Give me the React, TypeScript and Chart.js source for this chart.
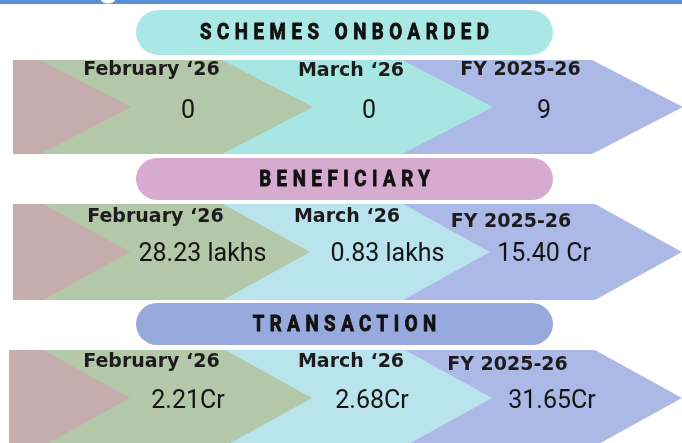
import React, { useEffect, useRef } from "react";
import { Chart, registerables } from "chart.js";
Chart.register(...registerables);

// ---- data ----
const periods = ["February ‘26", "March ‘26", "FY 2025-26"];
const metrics = ["SCHEMES ONBOARDED", "BENEFICIARY", "TRANSACTION"];
const schemesOnboarded = ["0", "0", "9"];
const beneficiaries = ["28.23 lakhs", "0.83 lakhs", "15.40 Cr"];
const transactions = ["2.21Cr", "2.68Cr", "31.65Cr"];
const rowValues = [schemesOnboarded, beneficiaries, transactions];

// ---- layout (in canvas units mapped through the scales) ----
const W = 682;
const H = 443;
const pillColors = ["#a9e8e5", "#d6abcf", "#98a9dd"];
const pillBoxes = [
  [136, 10, 553, 55],
  [136, 158, 553, 200],
  [136, 303, 553, 345],
];
const bandBoxes = [
  [13, 60, 154],
  [13, 204, 300],
  [9, 350, 446],
];
const segRight = [
  [40, 222, 402, 592],
  [43, 223, 403, 595],
  [43, 225, 405, 595],
];
const tipDepth = [91, 87, 87];
const segColors = [
  ["#c4adac", "#b3c8a8", "#a8e6e3", "#acb9e6"],
  ["#c4adac", "#b3c8a8", "#b9e4ee", "#acb9e6"],
  ["#c4adac", "#b3c8a8", "#b9e4ec", "#acb9e6"],
];
const labelPos = [
  [[151.5, 75], [351, 76], [520.5, 75]],
  [[155.5, 222], [347, 222], [511, 227]],
  [[151.5, 367], [351, 367], [507.5, 370]],
];
const valuePos = [
  [[188, 118], [369, 118], [544, 118]],
  [[202.5, 261], [387.5, 261], [544, 261]],
  [[188, 408], [372, 408], [552, 408]],
];

const infographic = {
  id: "infographic",
  beforeDatasetsDraw(chart: any) {
    const ctx = chart.ctx as CanvasRenderingContext2D;
    const xs = chart.scales.x;
    const ys = chart.scales.y;
    const px = (v: number) => xs.getPixelForValue(v);
    const py = (v: number) => ys.getPixelForValue(v);
    ctx.save();
    // top strip
    ctx.fillStyle = "#5a8fd4";
    ctx.fillRect(px(0), py(0), px(W) - px(0), py(4) - py(0));
    ctx.fillStyle = "#ffffff";
    ctx.beginPath();
    ctx.ellipse(px(108), py(0), 7, 3.5, 0, 0, Math.PI * 2);
    ctx.fill();

    metrics.forEach((m, r) => {
      // pill
      const [x0, y0, x1, y1] = pillBoxes[r];
      const rad = (py(y1) - py(y0)) / 2;
      ctx.fillStyle = pillColors[r];
      ctx.beginPath();
      ctx.roundRect(px(x0), py(y0), px(x1) - px(x0), py(y1) - py(y0), rad);
      ctx.fill();
      // condensed, tracked title
      ctx.save();
      ctx.fillStyle = "#111111";
      ctx.strokeStyle = "#111111";
      ctx.lineWidth = 0.9;
      ctx.font = "bold 22px Roboto";
      (ctx as any).letterSpacing = "6.5px";
      ctx.textAlign = "center";
      ctx.textBaseline = "middle";
      const cx = px((x0 + x1) / 2);
      const cy = py((y0 + y1) / 2) + 1;
      ctx.translate(cx, cy);
      ctx.scale(0.85, 1);
      ctx.fillText(m, 3.25, 0);
      ctx.strokeText(m, 3.25, 0);
      ctx.restore();

      // chevrons
      const [L, T, B] = bandBoxes[r];
      const M = (T + B) / 2;
      for (let i = 3; i >= 0; i--) {
        const R = segRight[r][i];
        ctx.fillStyle = segColors[r][i];
        ctx.beginPath();
        ctx.moveTo(px(L), py(T));
        ctx.lineTo(px(R), py(T));
        ctx.lineTo(px(R + tipDepth[r]), py(M));
        ctx.lineTo(px(R), py(B));
        ctx.lineTo(px(L), py(B));
        ctx.closePath();
        ctx.fill();
      }

      // period labels
      ctx.fillStyle = "#1c1c1c";
      ctx.font = "bold 19px 'DejaVu Sans'";
      ctx.textAlign = "center";
      ctx.textBaseline = "alphabetic";
      periods.forEach((p, c) => {
        const [lx, ly] = labelPos[r][c];
        ctx.fillText(p, px(lx), py(ly));
      });
    });
    ctx.restore();
  },
  afterDatasetsDraw(chart: any) {
    const ctx = chart.ctx as CanvasRenderingContext2D;
    ctx.save();
    ctx.fillStyle = "#141414";
    ctx.font = "25px Roboto";
    ctx.textAlign = "center";
    ctx.textBaseline = "alphabetic";
    chart.data.datasets.forEach((ds: any, r: number) => {
      const meta = chart.getDatasetMeta(r);
      meta.data.forEach((pt: any, c: number) => {
        ctx.fillText(rowValues[r][c], pt.x, pt.y);
      });
    });
    ctx.restore();
  },
};

export default function App() {
  const ref = useRef<HTMLCanvasElement | null>(null);
  useEffect(() => {
    document.body.style.margin = "0";
    const canvas = ref.current!;
    const chart = new Chart(canvas, {
      type: "scatter",
      data: {
        datasets: metrics.map((m, r) => ({
          label: m,
          data: valuePos[r].map(([x, y]) => ({ x, y })),
          pointRadius: 0,
          showLine: false,
        })),
      },
      options: {
        responsive: false,
        animation: false,
        layout: { padding: 0 },
        plugins: { legend: { display: false }, tooltip: { enabled: false } },
        scales: {
          x: { type: "linear", min: 0, max: W, display: false },
          y: { type: "linear", min: 0, max: H, reverse: true, display: false },
        },
      },
      plugins: [infographic],
    });
    return () => chart.destroy();
  }, []);
  return (
    <div style={{ width: W, height: H, background: "#ffffff" }}>
      <canvas ref={ref} width={W} height={H} style={{ display: "block" }} />
    </div>
  );
}
